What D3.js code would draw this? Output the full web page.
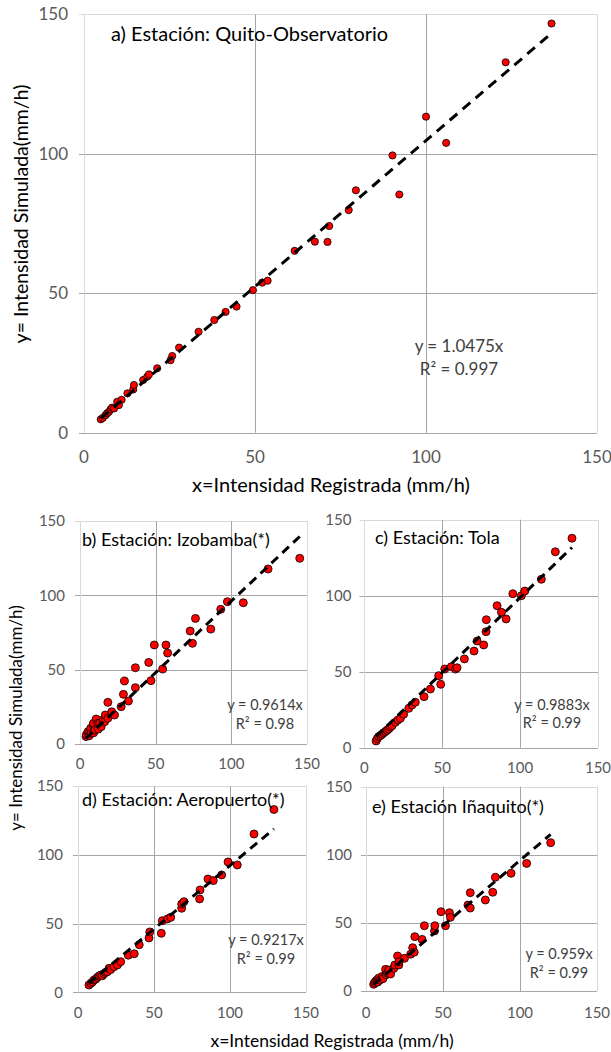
<!DOCTYPE html>
<html>
<head>
<meta charset="utf-8">
<script src="https://cdn.jsdelivr.net/npm/d3@7/dist/d3.min.js"></script>
<style>
  body { margin: 0; background: #fff; }
  svg { display: block; font-family: Lato, "Noto Sans", sans-serif; }
</style>
</head>
<body>
<div id="chart"></div>
<script>
const tickValues = [0, 50, 100, 150];

// [registrada, simulada] pairs
const quitoObs = [
  [4.9, 4.8], [5.5, 5.3], [6.3, 6.3], [6.8, 7.0], [7.3, 7.5], [7.8, 8.4], [8.2, 9.0], [8.8, 8.7],
  [9.7, 11.1], [10.2, 9.9], [11.0, 11.8], [12.7, 14.1], [14.4, 15.5], [14.6, 17.1], [17.3, 18.9],
  [18.5, 20.1], [19.0, 20.9], [21.4, 23.1], [25.3, 26.0], [25.8, 27.5], [27.8, 30.5], [33.5, 36.2],
  [38.1, 40.4], [41.4, 43.3], [44.6, 45.2], [49.4, 51.1], [52.1, 53.8], [53.7, 54.5], [61.6, 65.2],
  [67.5, 68.5], [71.2, 68.4], [71.7, 74.1], [77.4, 79.8], [79.5, 86.9], [92.2, 85.4], [90.2, 99.4],
  [100, 113.3], [105.9, 103.9], [123.3, 132.8], [136.7, 146.7]
];
const izobamba = [
  [4.0, 5.0], [4.2, 6.3], [5.3, 8.3], [6.0, 5.5], [6.5, 8.0], [7.0, 10.5], [7.4, 7.2], [8.6, 12.8],
  [8.9, 13.9], [9.0, 7.5], [9.7, 9.4], [10.7, 16.8], [11.8, 13.9], [12.0, 10.0], [13.0, 14.0],
  [14.0, 11.6], [15.1, 16.1], [16.3, 15.0], [16.7, 19.5], [18.4, 17.3], [18.4, 28.0], [21.0, 21.7],
  [22.8, 19.5], [27.2, 25.1], [28.7, 33.4], [29.4, 42.4], [32.0, 28.9], [36.6, 37.9], [36.6, 51.3],
  [45.4, 54.9], [46.9, 42.6], [49.1, 66.6], [54.6, 50.4], [56.8, 66.6], [57.9, 61.2], [72.8, 76.0],
  [74.3, 67.7], [76.3, 84.5], [86.4, 77.3], [93.0, 90.6], [97.4, 95.7], [107.9, 95.0], [124.3, 117.7],
  [145.2, 124.9]
];
const tola = [
  [7.5, 4.4], [8.3, 6.0], [9.2, 7.3], [10.3, 8.0], [11.4, 8.8], [12.4, 9.8], [13.5, 10.6], [14.5, 11.5],
  [15.6, 12.3], [16.7, 13.6], [17.8, 14.5], [19.9, 16.7], [21.5, 18.2], [23.1, 19.3], [25.2, 22.0],
  [28.5, 25.9], [30.6, 28.1], [32.7, 29.9], [38.3, 33.6], [42.4, 38.6], [47.7, 47.4], [49.0, 41.7],
  [51.6, 51.8], [55.8, 53.3], [58.5, 51.7], [59.5, 52.6], [64.2, 58.4], [70.4, 63.6], [72.4, 70.2],
  [76.6, 67.6], [78.1, 76.3], [78.3, 84.2], [85.2, 93.4], [88.0, 89.1], [91.0, 84.7], [95.3, 101.3],
  [100.8, 100.0], [103.0, 103.1], [113.6, 110.8], [122.6, 128.9], [133.3, 137.8]
];
const aeropuerto = [
  [7.2, 5.3], [8.5, 6.5], [9.5, 7.5], [10.5, 8.9], [11.6, 9.5], [12.7, 10.8], [13.8, 11.8], [14.9, 12.5],
  [16.0, 12.0], [17.1, 13.5], [18.2, 14.5], [19.3, 14.9], [20.4, 17.4], [21.5, 16.5], [23.7, 18.6],
  [26.0, 19.9], [28.1, 22.3], [33.1, 27.0], [37.0, 28.0], [40.3, 34.6], [46.7, 39.5], [47.2, 43.9],
  [54.8, 42.9], [55.5, 52.1], [58.8, 53.3], [61.0, 54.5], [68.2, 61.1], [68.2, 64.2], [69.7, 65.9],
  [80.0, 67.9], [80.3, 74.4], [85.5, 82.4], [89.0, 81.2], [94.5, 85.3], [98.7, 94.8], [104.8, 92.6],
  [115.8, 115.1], [128.9, 132.9]
];
const inaquito = [
  [5.0, 4.9], [5.5, 6.0], [6.2, 7.1], [7.0, 8.0], [7.5, 6.5], [8.3, 9.5], [9.0, 8.0], [10.5, 10.7],
  [11.0, 9.0], [12.7, 15.9], [13.1, 11.9], [14.0, 13.0], [14.8, 15.4], [16.0, 12.5], [18.0, 16.6],
  [18.7, 19.1], [20.5, 25.7], [21.3, 19.1], [21.5, 21.5], [25.0, 24.0], [29.0, 27.0], [30.3, 31.8],
  [31.3, 28.5], [31.7, 39.9], [36.4, 37.9], [37.9, 47.9], [44.5, 44.1], [44.7, 47.9], [48.7, 58.2],
  [51.6, 47.9], [54.2, 57.5], [54.8, 54.1], [66.2, 63.1], [67.7, 60.9], [67.7, 72.2], [77.5, 66.8],
  [82.3, 72.5], [84.0, 83.5], [94.2, 86.4], [104.3, 93.7], [119.9, 108.9]
];

const titles = [
  'a) Estación: Quito-Observatorio',
  'b) Estación: Izobamba(*)',
  'c) Estación: Tola',
  'd) Estación: Aeropuerto(*)',
  'e) Estación Iñaquito(*)'
];
const slopes = [1.0475, 0.9614, 0.9883, 0.9217, 0.959];
const r2 = ['0.997', '0.98', '0.99', '0.99', '0.99'];
const series = [quitoObs, izobamba, tola, aeropuerto, inaquito];

const yLabel = 'y= Intensidad Simulada(mm/h)';
const xLabel = 'x=Intensidad Registrada (mm/h)';

// layout of each panel (pixel boxes)
const layout = [
  { l: 84, r: 597, t: 14.3, b: 432.7, tick: 17, titleSize: 20, titleX: 111, titleY: 41,
    eqSize: 17, eqX: 459, eqY: [352, 375], xTickDy: 30, yTickDx: 16, rad: 3.6, dash: '10,7' },
  { l: 80, r: 307, t: 521, b: 744, tick: 15, titleSize: 18, titleX: 82, titleY: 546,
    eqSize: 14.5, eqX: 265, eqY: [710, 729], xTickDy: 25, yTickDx: 15, rad: 4, dash: '9,6' },
  { l: 364.4, r: 598, t: 519.7, b: 747.7, tick: 15, titleSize: 18, titleX: 375, titleY: 544,
    eqSize: 14.5, eqX: 552, eqY: [710, 728], xTickDy: 25, yTickDx: 13, rad: 4, dash: '9,6' },
  { l: 78, r: 306, t: 786, b: 992.3, tick: 15, titleSize: 18, titleX: 82, titleY: 806,
    eqSize: 14.5, eqX: 266, eqY: [945, 964], xTickDy: 26, yTickDx: 15, rad: 4, dash: '9,6' },
  { l: 366, r: 597, t: 786.7, b: 991, tick: 15, titleSize: 18, titleX: 372, titleY: 813,
    eqSize: 14.5, eqX: 559, eqY: [959, 978], xTickDy: 27, yTickDx: 14, rad: 4, dash: '9,6' }
];

const svg = d3.select('#chart')
  .append('svg')
  .attr('width', 611)
  .attr('height', 1052);

series.forEach((data, i) => drawPanel(data, i));

function drawPanel(data, i) {
  const L = layout[i];
  const x = d3.scaleLinear().domain([0, 150]).range([L.l, L.r]);
  const y = d3.scaleLinear().domain([0, 150]).range([L.b, L.t]);
  const g = svg.append('g');

  // horizontal grid (with small tick stubs on the left)
  g.append('g')
    .selectAll('line')
    .data(tickValues)
    .join('line')
    .attr('x1', L.l - 5)
    .attr('x2', L.r)
    .attr('y1', d => Math.round(y(d)) + 0.5)
    .attr('y2', d => Math.round(y(d)) + 0.5)
    .attr('stroke', d => d === 150 ? '#d9d9d9' : '#a6a6a6')
    .attr('stroke-width', 1);

  // vertical grid
  g.append('g')
    .selectAll('line')
    .data(tickValues)
    .join('line')
    .attr('x1', d => Math.round(x(d)) + 0.5)
    .attr('x2', d => Math.round(x(d)) + 0.5)
    .attr('y1', L.t)
    .attr('y2', L.b)
    .attr('stroke', d => (d === 0 || d === 150) ? '#d9d9d9' : '#a6a6a6')
    .attr('stroke-width', 1);

  // tick labels
  g.append('g')
    .selectAll('text')
    .data(tickValues)
    .join('text')
    .attr('x', L.l - L.yTickDx)
    .attr('y', d => y(d))
    .attr('dy', '0.35em')
    .attr('text-anchor', 'end')
    .attr('font-size', L.tick)
    .attr('fill', '#595959')
    .text(d => d);

  g.append('g')
    .selectAll('text')
    .data(tickValues)
    .join('text')
    .attr('x', d => x(d))
    .attr('y', L.b + L.xTickDy)
    .attr('text-anchor', 'middle')
    .attr('font-size', L.tick)
    .attr('fill', '#595959')
    .text(d => d);

  // points
  g.append('g')
    .selectAll('circle')
    .data(data)
    .join('circle')
    .attr('cx', d => x(d[0]))
    .attr('cy', d => y(d[1]))
    .attr('r', L.rad)
    .attr('fill', '#ff0000')
    .attr('stroke', '#000')
    .attr('stroke-width', 0.8);

  // trendline through origin, over the data range
  const [xmin, xmax] = d3.extent(data, d => d[0]);
  g.append('line')
    .attr('x1', x(xmin))
    .attr('y1', y(slopes[i] * xmin))
    .attr('x2', x(xmax))
    .attr('y2', y(slopes[i] * xmax))
    .attr('stroke', '#000')
    .attr('stroke-width', 3)
    .attr('stroke-dasharray', L.dash);

  // panel title
  g.append('text')
    .attr('x', L.titleX)
    .attr('y', L.titleY)
    .attr('font-size', L.titleSize)
    .attr('fill', '#000')
    .text(titles[i]);

  // equation
  const eq = g.append('g')
    .attr('font-size', L.eqSize)
    .attr('fill', '#404040')
    .attr('text-anchor', 'middle');
  eq.append('text')
    .attr('x', L.eqX)
    .attr('y', L.eqY[0])
    .text(`y = ${slopes[i]}x`);
  eq.append('text')
    .attr('x', L.eqX)
    .attr('y', L.eqY[1])
    .text(`R² = ${r2[i]}`);
}

// axis titles
svg.append('text')
  .attr('transform', 'translate(28,214) rotate(-90)')
  .attr('text-anchor', 'middle')
  .attr('font-size', 19.5)
  .attr('fill', '#000')
  .text(yLabel);

svg.append('text')
  .attr('x', 331)
  .attr('y', 492)
  .attr('text-anchor', 'middle')
  .attr('font-size', 20)
  .attr('fill', '#000')
  .text(xLabel);

svg.append('text')
  .attr('transform', 'translate(22,718) rotate(-90)')
  .attr('text-anchor', 'middle')
  .attr('font-size', 17)
  .attr('fill', '#000')
  .text(yLabel);

svg.append('text')
  .attr('x', 332)
  .attr('y', 1047)
  .attr('text-anchor', 'middle')
  .attr('font-size', 17.5)
  .attr('fill', '#000')
  .text(xLabel);
</script>
</body>
</html>
